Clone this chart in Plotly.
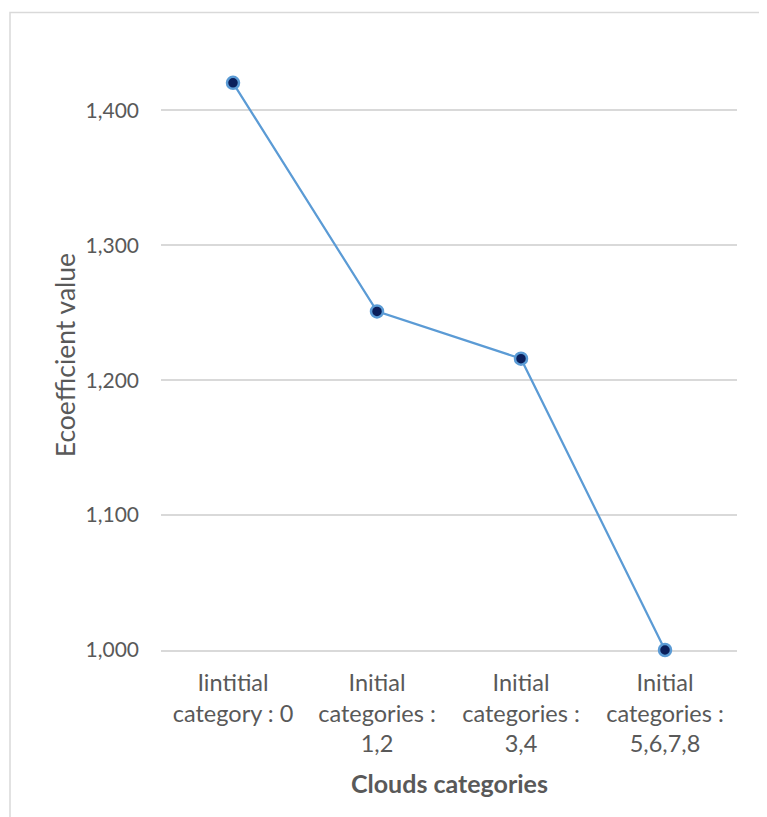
import plotly.graph_objects as go

categories = ["Iintitial<br>category : 0", "Initial<br>categories :<br>1,2",
              "Initial<br>categories :<br>3,4", "Initial<br>categories :<br>5,6,7,8"]
values = [1420.5, 1251, 1216, 1000]
y_ticks = [1000, 1100, 1200, 1300, 1400]
y_tick_labels = ["1,000", "1,100", "1,200", "1,300", "1,400"]

OFF = 8  # page body margin
W, H = 767 - OFF, 817 - OFF
# plot area in page pixels
L, R, T, B = 161, 737, 42.5, 650
FONT = "Lato"
TXT = "#595959"

fig = go.Figure()
fig.add_trace(go.Scatter(
    x=categories, y=values, mode="lines+markers",
    line=dict(color="#5B9BD5", width=2.25),
    marker=dict(size=12, color="#0B1F5B", line=dict(color="#5B9BD5", width=2.5)),
    showlegend=False, cliponaxis=False,
))

def px_x(p):
    return (p - L) / (R - L)

def px_y(p):
    return (B - p) / (B - T)

fig.update_layout(
    width=W, height=H,
    margin=dict(l=L - OFF, r=W - (R - OFF), t=T - OFF, b=H - (B - OFF), pad=0),
    paper_bgcolor="white", plot_bgcolor="white",
    font=dict(family=FONT, color=TXT, size=21),
    xaxis=dict(type="category", range=[-0.5, 3.5], showgrid=False,
               showline=True, linecolor="#D9D9D9", linewidth=1.5,
               layer="below traces",
               ticks="", tickfont=dict(size=23.5, color=TXT, family=FONT),
               ticklabelstandoff=11,
               zeroline=False, fixedrange=True),
    yaxis=dict(range=[1000, 1450], tickvals=y_ticks, ticktext=y_tick_labels,
               showgrid=True, gridcolor="#D9D9D9", gridwidth=1.5,
               showline=False, zeroline=False, ticks="", layer="below traces",
               tickfont=dict(size=21, color=TXT, family=FONT), ticklabelstandoff=21),
    shapes=[dict(type="rect", xref="paper", yref="paper",
                 x0=px_x(10), x1=px_x(765.5), y0=px_y(12), y1=px_y(830),
                 line=dict(color="#D9D9D9", width=1.5), fillcolor="rgba(0,0,0,0)",
                 layer="below")],
    annotations=[
        dict(text="Ecoefficient value", xref="paper", yref="paper",
             x=px_x(65), y=px_y(355), textangle=-90, showarrow=False,
             xanchor="center", yanchor="middle",
             font=dict(size=26.5, color=TXT, family=FONT)),
        dict(text="<b>Clouds categories</b>", xref="paper", yref="paper",
             x=px_x(449.5), y=px_y(783), showarrow=False,
             xanchor="center", yanchor="middle",
             font=dict(size=25, color=TXT, family=FONT)),
    ],
)

fig.write_html("out.html")
